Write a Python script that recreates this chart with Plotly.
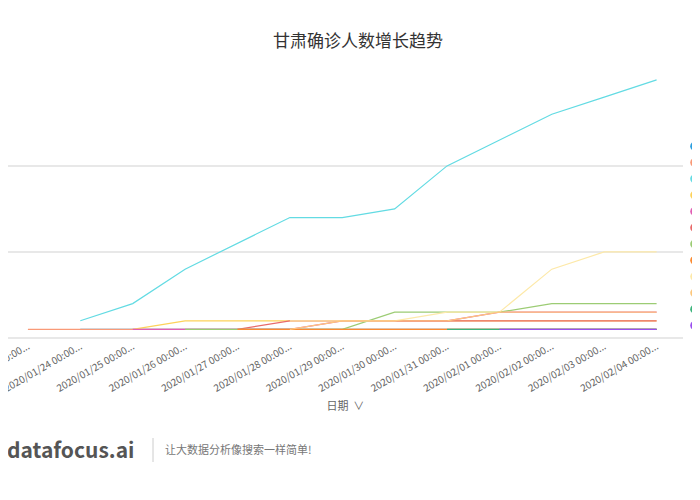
import plotly.graph_objects as go

dates = ["2020/01/%02d 00:00..." % d for d in range(23, 32)] + ["2020/02/%02d 00:00..." % d for d in range(1, 5)]

cities = ["兰州新区", "天水", "兰州", "白银", "定西", "陇南", "平凉", "临夏", "甘南", "庆阳", "张掖", "金昌"]
colors = ["#2e9fdf", "#f99a78", "#63dbe3", "#fdd25a", "#e15fb4", "#e86a6a",
          "#9ccc74", "#fb8b32", "#fde9a9", "#fdc77c", "#3cb47c", "#9b50ef"]
N = None
values = [
    [N, 1, 1, 1, 1, 1, 1, 1, 1, 1, 1, 1, 1],
    [1, 1, 1, 1, 1, 1, 1, 1, 1, 1, 1, 1, 1],
    [N, 2, 4, 8, 11, 14, 14, 15, 20, 23, 26, 28, 30],
    [N, N, 1, 2, 2, 2, 2, 2, 2, 2, 2, 2, 2],
    [N, N, 1, 1, 1, 1, 2, 2, 2, 3, 3, 3, 3],
    [N, N, N, N, 1, 2, 2, 2, 2, 2, 2, 2, 2],
    [N, N, N, 1, 1, 1, 1, 3, 3, 3, 4, 4, 4],
    [N, N, N, N, 1, 1, 1, 1, 1, 1, 1, 1, 1],
    [N, N, N, N, N, 2, 2, 2, 3, 3, 8, 10, 10],
    [N, N, N, N, N, 1, 2, 2, 2, 3, 3, 3, 3],
    [N, N, N, N, N, N, N, N, 1, 1, 1, 1, 1],
    [N, N, N, N, N, N, N, N, N, 1, 1, 1, 1],
]

fig = go.Figure()
for name, col, vals in zip(cities, colors, values):
    fig.add_trace(go.Scatter(x=dates, y=vals, mode="lines", name=name,
                             line=dict(color=col, width=1.2), showlegend=False))

# hand-made legend on its own small axes (names run off the right edge as in the reference)
fig.add_trace(go.Scatter(x=[0] * len(cities), y=list(range(len(cities))), mode="markers+text",
                         text=["  " + c for c in cities], textposition="middle right",
                         textfont=dict(size=11, color="#666"), cliponaxis=False,
                         marker=dict(color=colors, size=9), xaxis="x2", yaxis="y2",
                         showlegend=False, hoverinfo="skip"))

fig.update_layout(
    width=700, height=500, plot_bgcolor="white", paper_bgcolor="white",
    margin=dict(l=0, r=0, t=71, b=170), showlegend=False,
    font=dict(family="Noto Sans CJK SC, sans-serif", color="#666"),
    title=dict(text="甘肃确诊人数增长趋势", x=0.5, xanchor="center", y=0.945,
               font=dict(size=17, color="#333")),
    xaxis=dict(domain=[0, 0.964], range=[-0.38, 12.5], showgrid=False, automargin=False,
               tickangle=-30, tickfont=dict(size=10, color="#666"), ticks="",
               title=dict(text="日期  ∨", font=dict(size=11, color="#666"), standoff=8)),
    yaxis=dict(range=[0, 30.1], dtick=10, showticklabels=False, gridcolor="#e8e8e8", automargin=False,
               gridwidth=1.5, zeroline=True, zerolinecolor="#e8e8e8", zerolinewidth=1.5),
    xaxis2=dict(domain=[0.981, 1], range=[0, 1], visible=False, anchor="y2"),
    yaxis2=dict(domain=[0.017, 0.772], range=[11.5, -0.5], visible=False, anchor="x2"),
)
yb = (330 - 441) / 259
fig.add_annotation(text="<b>datafocus.ai</b>", xref="paper", x=-0.005, xanchor="left",
                   yref="paper", y=yb, yanchor="middle", showarrow=False,
                   font=dict(size=21, color="#555"))
fig.add_annotation(text="让大数据分析像搜索一样简单!", xref="paper", x=155 / 700, xanchor="left",
                   yref="paper", y=yb, yanchor="middle", showarrow=False,
                   font=dict(size=11, color="#777"))
fig.add_shape(type="line", xref="paper", yref="paper", x0=145 / 700, x1=145 / 700,
              y0=(330 - 430) / 259, y1=(330 - 454) / 259, line=dict(color="#ccc", width=1))
fig.write_html("out.html")
